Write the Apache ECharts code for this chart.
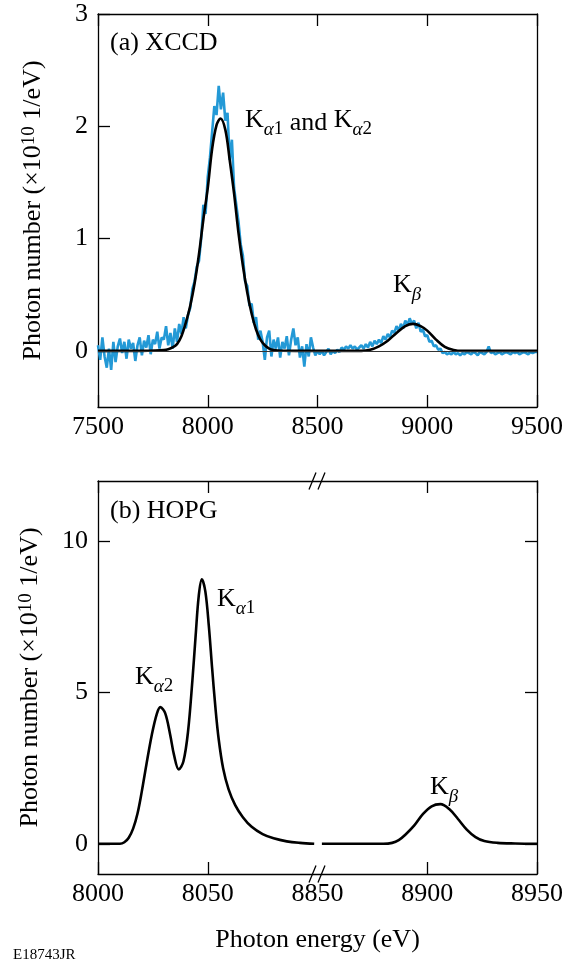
<!DOCTYPE html>
<html><head><meta charset="utf-8">
<script src="https://cdn.jsdelivr.net/npm/echarts@6/dist/echarts.min.js"></script>
<style>html,body{margin:0;padding:0;background:#fff}#c{width:567px;height:959px}</style>
</head><body><div id="c"></div>
<script>
const FONT = "Liberation Serif";

// (a) XCCD measured spectrum (x10^10 1/eV), sampled every 10 eV starting at 7500 eV
const xccdStart = 7500;
const xccdStep = 10;
const xccdMeasured = [
  0.05, -0.08, 0.12, -0.05, -0.15, 0.02, -0.17, 0.08, -0.10, 0.04,
  0.11, -0.02, 0.08, -0.07, 0.10, 0.02, 0.07, -0.09, 0.05, 0.12,
  -0.04, 0.09, 0.03, 0.14, -0.03, 0.10, 0.06, 0.17, 0.02, 0.12,
  0.10, 0.22, 0.05, 0.16, 0.02, 0.20, 0.08, 0.24, 0.15, 0.30,
  0.20, 0.32, 0.38, 0.55, 0.62, 0.75, 0.80, 1.00, 1.30, 1.22,
  1.55, 1.72, 1.95, 2.18, 2.10, 2.36, 2.15, 2.30, 2.05, 2.12,
  1.70, 1.88, 1.45, 1.30, 1.15, 0.95, 0.85, 0.62, 0.58, 0.40,
  0.42, 0.25, 0.30, 0.10, 0.18, 0.08, -0.08, 0.12, 0.18, -0.05,
  0.10, 0.02, 0.12, -0.06, 0.08, 0.02, 0.13, -0.04, 0.10, 0.20,
  0.05, 0.12, -0.06, 0.04, -0.14, 0.06, -0.05, 0.12, 0.03, -0.04,
  0.00, -0.03, 0.00, -0.04, -0.01, 0.02, -0.03, 0.00, -0.02, 0.01,
  -0.01, 0.03, 0.01, 0.04, 0.02, 0.05, 0.02, 0.04, 0.01, 0.03,
  0.05, 0.02, 0.06, 0.03, 0.08, 0.04, 0.09, 0.06, 0.10, 0.07,
  0.13, 0.10, 0.15, 0.12, 0.18, 0.16, 0.22, 0.18, 0.24, 0.20,
  0.27, 0.23, 0.29, 0.24, 0.27, 0.20, 0.25, 0.17, 0.19, 0.13,
  0.14, 0.08, 0.09, 0.04, 0.05, 0.01, 0.02, -0.02, -0.01, -0.03,
  -0.02, -0.03, -0.01, -0.03, -0.02, -0.04, -0.02, -0.03, -0.01, -0.02,
  -0.03, -0.01, -0.02, -0.04, -0.01, -0.02, -0.03, -0.01, 0.04, -0.02,
  -0.01, -0.03, -0.02, -0.01, -0.03, -0.02, -0.01, -0.02, -0.03, -0.01,
  -0.02, -0.01, -0.03, -0.02, -0.01, -0.02, -0.03, -0.01, -0.02, -0.01,
  -0.01
];

// (a) XCCD fitted curve
const xccdFitEnergy = [7500, 7700, 7760, 7800, 7820, 7840, 7860, 7880, 7900, 7920,
  7940, 7960, 7980, 8000, 8020, 8040, 8058, 8080, 8100, 8120,
  8140, 8160, 8180, 8200, 8220, 8240, 8260, 8280, 8300, 8340,
  8400, 8700, 8740, 8780, 8820, 8860, 8900, 8935, 8970, 9000,
  9040, 9080, 9120, 9160, 9500];
const xccdFitValue = [0, 0, 0.003, 0.008, 0.015, 0.03, 0.06, 0.13, 0.25, 0.40,
  0.60, 0.86, 1.17, 1.45, 1.80, 2.01, 2.07, 1.97, 1.70, 1.40,
  1.05, 0.76, 0.52, 0.33, 0.19, 0.10, 0.05, 0.02, 0.008, 0.001,
  0, 0, 0.01, 0.04, 0.09, 0.16, 0.22, 0.24, 0.22, 0.18,
  0.10, 0.035, 0.008, 0, 0];

// (b) HOPG spectrum, low-energy part (Kα2, Kα1)
const hopgLowEnergy = [8000, 8010, 8012, 8014, 8016, 8018, 8020, 8022, 8024.5, 8026.8,
  8028.4, 8030.6, 8032.9, 8034.6, 8036.8, 8038.9, 8041, 8043, 8044.5, 8045.9,
  8047.3, 8048.9, 8050.5, 8052, 8053.5, 8055, 8057, 8059.5, 8062.5, 8066,
  8070, 8075, 8080, 8086, 8092, 8098.5];
const hopgLowValue = [0, 0, 0.05, 0.2, 0.5, 1.0, 1.75, 2.6, 3.6, 4.3,
  4.52, 4.32, 3.6, 2.95, 2.46, 2.72, 3.7, 5.4, 6.9, 8.2,
  8.75, 8.35, 7.2, 5.8, 4.5, 3.45, 2.5, 1.8, 1.28, 0.88,
  0.56, 0.32, 0.18, 0.08, 0.03, 0];
// (b) HOPG spectrum, high-energy part (Kβ)
const hopgHighEnergy = [8852, 8870, 8880, 8884, 8887, 8890, 8894, 8898, 8902, 8906,
  8910, 8914, 8918, 8922, 8926, 8932, 8940, 8950];
const hopgHighValue = [0, 0, 0, 0.03, 0.12, 0.3, 0.6, 0.98, 1.24, 1.31,
  1.15, 0.82, 0.47, 0.22, 0.09, 0.03, 0.01, 0];

// tick values
const topXTicks = [7500, 8000, 8500, 9000, 9500];
const topYTicks = [0, 1, 2, 3];
const botXTicks = [8000, 8050, 8850, 8900, 8950];
const botYTicks = [0, 5, 10];
const breakStart = 8100, breakEnd = 8850; // broken x axis in panel (b)

// map real energy -> compressed axis value for the broken axis
const toBroken = e => (e >= breakEnd ? e - (breakEnd - breakStart) : e);
const fromBroken = v => (v >= breakStart ? v + (breakEnd - breakStart) : v);

const xccdData = xccdMeasured.map((v, i) => [xccdStart + i * xccdStep, v]);
const fitData = xccdFitEnergy.map((e, i) => [e, xccdFitValue[i]]);
const hopgLowData = hopgLowEnergy.map((e, i) => [toBroken(e), hopgLowValue[i]]);
const hopgHighData = hopgHighEnergy.map((e, i) => [toBroken(e), hopgHighValue[i]]);

const lineSt = { color: '#000', width: 1.3 };

const yNameRich = {
  m: { fontFamily: FONT, fontSize: 26, color: '#000', verticalAlign: 'bottom' },
  s: { fontFamily: FONT, fontSize: 19, color: '#000', verticalAlign: 'top' }
};
const yName = '{m|Photon number (×10}{s|10}{m| 1/eV)}';

const annRich = {
  k: { fontFamily: FONT, fontSize: 26, color: '#000', verticalAlign: 'bottom', padding: [0, 0, 6, 0] },
  g: { fontFamily: FONT, fontSize: 19, fontStyle: 'italic', color: '#000', verticalAlign: 'bottom' },
  n: { fontFamily: FONT, fontSize: 19, color: '#000', verticalAlign: 'bottom' },
  t: { fontFamily: FONT, fontSize: 26, color: '#000' }
};

const near = (v, list) => list.some(t => Math.abs(t - v) < 1e-6);

function xAx(grid, pos, min, max, interval, tickVals, labelVals, fmt, extra) {
  return Object.assign({
    gridIndex: grid, type: 'value', position: pos, min: min, max: max, interval: interval,
    axisLine: { show: true, onZero: false, lineStyle: lineSt },
    axisTick: { show: true, inside: true, length: 12, lineStyle: lineSt, customValues: tickVals },
    axisLabel: labelVals ? { show: true, margin: 7, showMinLabel: true, showMaxLabel: true, hideOverlap: false,
      formatter: v => (near(v, labelVals) ? fmt(v) : ''),
      fontFamily: FONT, fontSize: 26, color: '#000' } : { show: false },
    splitLine: { show: false }
  }, extra || {});
}
function yAx(grid, pos, min, max, interval, tickVals, labelVals, extra) {
  return Object.assign({
    gridIndex: grid, type: 'value', position: pos, min: min, max: max, interval: interval,
    axisLine: { show: true, onZero: false, lineStyle: lineSt },
    axisTick: tickVals ? { show: true, inside: true, length: 12, lineStyle: lineSt, customValues: tickVals } : { show: false },
    axisLabel: labelVals ? { show: true, margin: 10, showMinLabel: true, showMaxLabel: true, hideOverlap: false,
      formatter: v => (near(v, labelVals) ? String(Math.round(v)) : ''),
      fontFamily: FONT, fontSize: 26, color: '#000' } : { show: false },
    splitLine: { show: false }
  }, extra || {});
}

const botXInternal = botXTicks.map(toBroken);
const botXTickPos = botXInternal.filter(v => v !== breakStart);

const chart = echarts.init(document.getElementById('c'));
chart.setOption({
  animation: false,
  backgroundColor: '#fff',
  textStyle: { fontFamily: FONT },
  grid: [
    { left: 98, top: 14, width: 439, height: 393 },
    { left: 98, top: 481, width: 439, height: 393 }
  ],
  xAxis: [
    xAx(0, 'bottom', 7500, 9500, 500, topXTicks, topXTicks, v => String(v)),
    xAx(0, 'top', 7500, 9500, 500, topXTicks, null),
    xAx(1, 'bottom', 8000, 8200, 50, botXTickPos, botXInternal, v => String(fromBroken(v)), {
      name: 'Photon energy (eV)', nameLocation: 'middle', nameGap: 53,
      nameTextStyle: { fontFamily: FONT, fontSize: 26, color: '#000' }
    }),
    xAx(1, 'top', 8000, 8200, 50, botXTickPos, null)
  ],
  yAxis: [
    yAx(0, 'left', -0.5, 3, 0.5, topYTicks, topYTicks, {
      name: yName, nameLocation: 'middle', nameRotate: 90, nameGap: 52,
      nameTextStyle: { rich: yNameRich }
    }),
    yAx(0, 'right', -0.5, 3, 0.5, null, null),
    yAx(1, 'left', -1, 12, 1, botYTicks, botYTicks, {
      name: yName, nameLocation: 'middle', nameRotate: 90, nameGap: 55,
      nameTextStyle: { rich: yNameRich }
    }),
    yAx(1, 'right', -1, 12, 1, botYTicks, null)
  ],
  series: [
    {
      type: 'line', xAxisIndex: 0, yAxisIndex: 0, data: xccdData, showSymbol: false,
      lineStyle: { color: '#2399d6', width: 2.6 }, z: 2
    },
    {
      type: 'line', xAxisIndex: 0, yAxisIndex: 0, data: fitData, showSymbol: false, smooth: 0.35,
      lineStyle: { color: '#000', width: 2.6 }, z: 4,
      markLine: {
        silent: true, symbol: 'none', label: { show: false },
        lineStyle: { color: '#333', width: 1, type: 'solid' },
        data: [{ yAxis: 0 }]
      }
    },
    {
      type: 'line', xAxisIndex: 2, yAxisIndex: 2, data: hopgLowData, showSymbol: false, smooth: 0.35,
      lineStyle: { color: '#000', width: 2.6 }
    },
    {
      type: 'line', xAxisIndex: 2, yAxisIndex: 2, data: hopgHighData, showSymbol: false, smooth: 0.35,
      lineStyle: { color: '#000', width: 2.6 }
    }
  ]
});

// decorations: panel labels, peak labels, axis-break marks
const brk = chart.convertToPixel({ gridIndex: 1 }, [breakStart, -1]);
const brkTop = chart.convertToPixel({ gridIndex: 1 }, [breakStart, 12]);
function slashes(cx, cy) {
  return [-5, 4].map(d => ({
    type: 'line', silent: true,
    shape: { x1: cx + d - 3.5, y1: cy + 8.5, x2: cx + d + 3.5, y2: cy - 8.5 },
    style: { stroke: '#000', lineWidth: 1.3 }, z: 10
  }));
}
function txt(left, top, text, rich) {
  return {
    type: 'text', left: left, top: top, silent: true, z: 10,
    style: rich ? { text: text, rich: rich } : { text: text, font: '26px ' + FONT, fill: '#000' }
  };
}
chart.setOption({
  graphic: [
    txt(110, 30, '(a) XCCD'),
    txt(110, 498, '(b) HOPG'),
    txt(245, 107, '{k|K}{g|α}{n|1}{t| and }{k|K}{g|α}{n|2}', annRich),
    txt(393, 272, '{k|K}{g|β}', annRich),
    txt(217, 586, '{k|K}{g|α}{n|1}', annRich),
    txt(135, 664, '{k|K}{g|α}{n|2}', annRich),
    txt(430, 774, '{k|K}{g|β}', annRich),
    { type: 'text', left: 13, top: 948, silent: true, style: { text: 'E18743JR', font: '15px ' + FONT, fill: '#000' } }
  ].concat(slashes(brk[0], brk[1]), slashes(brkTop[0], brkTop[1]))
});
</script>
</body></html>
